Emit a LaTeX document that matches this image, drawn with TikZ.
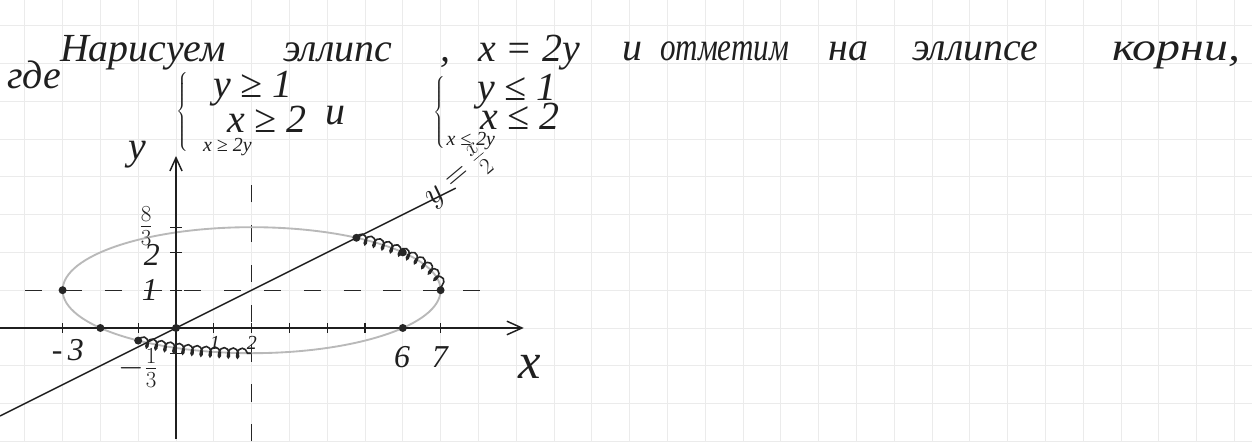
\documentclass[tikz,border=0pt]{standalone}
\usepackage{fontspec}
\setmainfont{Liberation Serif}
\usetikzlibrary{decorations.pathmorphing,arrows.meta}
\begin{document}
\begin{tikzpicture}[x=1cm,y=1cm,
  hw/.style={font=\fontsize{30}{36}\selectfont\itshape, inner sep=0pt, text=black!88},
  hws/.style={font=\fontsize{15}{18}\selectfont\itshape, inner sep=0pt, text=black!88},
  lbl/.style={font=\fontsize{24}{28}\selectfont\itshape, inner sep=0pt, text=black!88},
  gridline/.style={gray!16, line width=0.5pt},
  axis/.style={black!88, line width=1.1pt},
  ell/.style={gray!55, line width=1.4pt},
  dsh/.style={black!85, line width=1pt, dash pattern=on 13pt off 17pt},
  coilst/.style={black!85, line width=1.2pt, decorate, decoration={coil, aspect=0.6, segment length=2.4mm, amplitude=1.3mm}},
  pt/.style={circle, fill=black!85, inner sep=0pt, minimum size=6pt},
  tick/.style={black!88, line width=1pt},
  brc/.style={inner sep=0pt, text=black!88}
]
\useasboundingbox (-4.656,-3.0) rectangle (28.466,8.677);
\fill[white] (-4.656,-3.0) rectangle (28.466,8.677);
\draw[gridline] (-4.656,-3.0) grid (28.466,8.677);

% ---- text, line 1
\node[hw, anchor=base west] (t1) at (-3.07,7.04) {Нарисуем};
\node[hw, anchor=base west] (t2) at (2.83,7.04) {эллипс};
\node[hw, anchor=base west] (t3) at (7.0,7.04) {,};
\node[hw, anchor=base west] (t4) at (7.99,7.06) {x = 2y};
\node[hw, anchor=base west] (t5) at (11.80,7.08) {и};
\node[hw, anchor=base west] (t6) at (12.80,7.08) {\scalebox{0.78}[1]{отметим}};
\node[hw, anchor=base west] (t7) at (17.25,7.08) {на};
\node[hw, anchor=base west] (t8) at (19.47,7.08) {эллипсе};
\node[hw, anchor=base west] (t9) at (24.76,7.08) {\scalebox{1.2}[1]{корни,}};

% ---- line 2
\node[hw, anchor=base west] (g) at (-4.47,6.33) {где};
\node[brc] (b1) at (0.19,5.70) {$\left\{\vrule height 1.0cm depth 1.0cm width 0pt\right.$};
\node[hw, anchor=base west] (s11) at (0.98,6.11) {y ≥ 1};
\node[hw, anchor=base west] (s12) at (1.35,5.16) {x ≥ 2};
\node[hws, anchor=base west] (s13) at (0.71,4.66) {x ≥ 2y};
\node[hw, anchor=base west] (and) at (3.94,5.37) {и};
\node[brc] (b2) at (6.98,5.69) {$\left\{\vrule height 0.88cm depth 0.88cm width 0pt\right.$};
\node[hw, anchor=base west] (s21) at (7.96,6.03) {y ≤ 1};
\node[hw, anchor=base west] (s22) at (8.04,5.24) {x ≤ 2};
\node[hws, anchor=base west] (s23) at (7.15,4.82) {x ≤ 2y};

% ---- graph
\coordinate (xs) at (-4.656,0);
\coordinate (xe) at (9.2,0);
\coordinate (ys) at (0,-2.95);
\coordinate (ye) at (0,4.55);
\coordinate (hs) at (-4.0,1);
\coordinate (he) at (8.25,1);
\coordinate (vs) at (2,-3.0);
\coordinate (ve) at (2,4.2);
\coordinate (ls) at (-4.656,-2.328);
\coordinate (le) at (7.4,3.7);

\draw[dsh] (hs) -- (he);
\draw[dsh] (vs) -- (ve);
\draw[ell] (2,1) ellipse [x radius=5, y radius=1.6667];
\draw[axis, -{Straight Barb[length=4mm,width=3.6mm]}] (xs) -- (xe);
\draw[axis, -{Straight Barb[length=3.5mm,width=3.2mm]}] (ys) -- (ye);
\draw[axis] (ls) -- (le);

\foreach \x in {-3,-1,1,2,3,4,5,7} \draw[tick] (\x,-0.13) -- (\x,0.13);
\foreach \y in {2.6667,2,1,-0.6667} \draw[tick] (-0.15,\y) -- (0.15,\y);

\draw[coilst] (4.7735,2.3868) arc[start angle=56.31, end angle=0, x radius=5, y radius=1.6667];
\draw[coilst] (-1,-0.3333) arc[start angle=233.13, end angle=270, x radius=5, y radius=1.6667];

\node[pt] (p1) at (-3,1) {};
\node[pt] (p2) at (-2,0) {};
\node[pt] (p3) at (-1,-0.3333) {};
\node[pt] (p4) at (0,0) {};
\node[pt] (p5) at (6,0) {};
\node[pt] (p6) at (7,1) {};
\node[pt] (p7) at (6,2) {};
\node[pt] (p8) at (4.7735,2.3868) {};

% ---- labels
\node[hw] (ly) at (-1.03,4.58) {y};
\node[font=\fontsize{38}{44}\selectfont\itshape, inner sep=0pt, text=black!88] (lx) at (9.37,-1.03) {x};
\node[lbl] (l83) at (-0.79,2.70) {$\frac{8}{3}$};
\node[lbl] (l2y) at (-0.64,1.93) {2};
\node[lbl] (l1y) at (-0.69,1.0) {1};
\node[lbl] (lm3) at (-2.86,-0.58) {-\,3};
\node[lbl] (l6) at (5.98,-0.77) {6};
\node[lbl] (l7) at (6.98,-0.77) {7};
\node[hws] (l1x) at (1.03,-0.40) {1};
\node[hws] (l2x) at (2.01,-0.40) {2};
\node[lbl] (lm13) at (-1.0,-1.06) {$-\frac{1}{3}$};
\node[lbl, rotate=40] (leq) at (7.45,3.98) {$y=\frac{x}{2}$};
\end{tikzpicture}
\end{document}
